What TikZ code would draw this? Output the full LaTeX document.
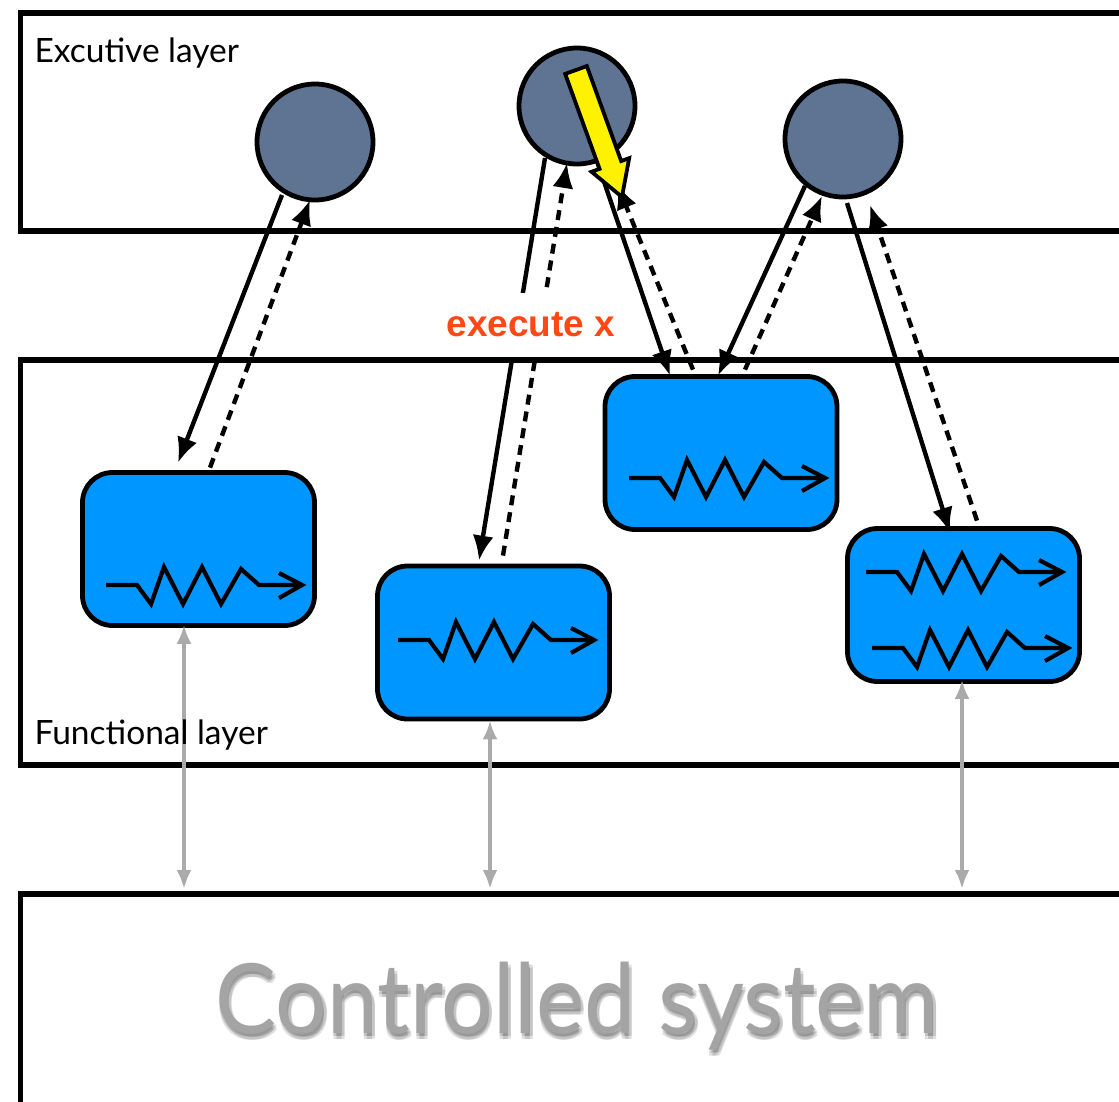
\documentclass[tikz,border=0pt]{standalone}
\usepackage{fontspec}
\setmainfont{Lato}
\newfontfamily\cmdfont{Liberation Sans}
\usetikzlibrary{arrows.meta,calc}

\definecolor{knot}{RGB}{94,116,146}
\definecolor{module}{RGB}{0,150,255}
\definecolor{link}{RGB}{170,170,170}
\definecolor{cmd}{RGB}{255,72,20}
\definecolor{sysgray}{RGB}{164,164,164}

\begin{document}
\begin{tikzpicture}[x=1pt,y=-1pt,
  layer/.style={draw=black,line width=5.5pt,rectangle,outer sep=0pt,inner sep=0pt,anchor=north west},
  knotnode/.style={circle,draw=black,line width=4.8pt,fill=knot,minimum size=116pt,inner sep=0pt},
  modbox/.style={rectangle,rounded corners=30pt,draw=black,line width=4.8pt,fill=module,
                 minimum width=232pt,minimum height=153pt,inner sep=0pt},
  req/.style={line width=4.4pt,-{Latex[length=25pt,width=21pt]}},
  rep/.style={req,dash pattern=on 10pt off 7pt},
  feed/.style={draw=link,line width=3.8pt,{Latex[length=19pt,width=15pt]}-{Latex[length=19pt,width=15pt]}},
  layertext/.style={anchor=base west,font=\fontsize{33.5}{38}\selectfont},
  wave/.pic={
    \draw[line width=4.2pt,line join=miter] (0,0) -- (31,0) -- (45,19) -- (58,-18) -- (77,19)
      -- (96,-18) -- (115,19) -- (135,-16) -- (153,0) -- (196,0);
    \draw[line width=4.2pt] (173,-12) -- (196,0) -- (173,13);
  }
]
\useasboundingbox (0,0) rectangle (1119,1101);
\clip (0,0) rectangle (1119,1101);

% the three layers
\node[layer,minimum width=1120pt,minimum height=218pt] (exec) at (20.5,13) {};
\node[layer,minimum width=1120pt,minimum height=405pt] (func) at (20.5,360) {};
\node[layer,minimum width=1120pt,minimum height=260pt] (plant) at (20.5,894) {};

% executive nodes
\node[knotnode] (c1) at (315,142) {};
\node[knotnode] (c2) at (577,106) {};
\node[knotnode] (c3) at (843,139) {};

% functional modules
\node[modbox] (fa) at (198.5,549) {};
\node[modbox] (fb) at (493.5,642.5) {};
\node[modbox] (fc) at (721,453) {};
\node[modbox] (fd) at (963.5,605) {};

\pic at ($(fa)+(-92.5,36)$) {wave};
\pic at ($(fb)+(-95.5,-2.5)$) {wave};
\pic at ($(fc)+(-92,25)$) {wave};
\pic at ($(fd)+(-97.5,-33)$) {wave};
\pic at ($(fd)+(-91.5,43)$) {wave};

% requests (solid) and replies (dashed)
\draw[req] ($(c1)+(-33,53)$) -- ($(fa.north)+(-20.5,-7.5)$);
\draw[rep] ($(fa.north)+(11.5,-2.5)$) -- ($(c1)+(-5,58)$);

\draw[req] ($(c2)+(-32,52)$) -- ($(fb.north)+(-14.5,-3)$);
\draw[rep] ($(fb.north)+(9.5,-8)$) -- ($(c2)+(-10,57)$);

\draw[req] ($(c2)+(20,55)$) -- ($(fc.north)+(-51,1.5)$);
\draw[rep] ($(fc.north)+(-28,-4.5)$) -- ($(c2)+(40,78)$);

\draw[req] ($(c3)+(-38,47)$) -- ($(fc.north)+(-3,1.5)$);
\draw[rep] ($(fc.north)+(24,-4.5)$) -- ($(c3)+(-21,57)$);

\draw[req] ($(c3)+(4,64)$) -- ($(fd.north)+(-13.5,6.5)$);
\draw[rep] ($(fd.north)+(13.5,-5.5)$) -- ($(c3)+(27,66)$);

% command label
\node[fill=white,inner sep=0pt,minimum width=190pt,minimum height=64pt,text=cmd,
      font=\cmdfont\bfseries\fontsize{37}{40}\selectfont] (cmdlabel) at (531,325) {execute x};

% highlighted command
\begin{scope}[shift={(576,70)},rotate=-70.1]
  \draw[line width=3.8pt,fill=yellow,line join=miter]
    (0,-11.5) -- (101,-11.5) -- (101,-20) -- (135,0) -- (101,20) -- (101,11.5) -- (0,11.5) -- cycle;
\end{scope}

% links to the controlled system
\draw[feed] ($(fa.south)+(-14.5,-3)$) coordinate (ga) -- ([yshift=5pt]ga |- plant.north);
\draw[feed] ($(fb.south)+(-3.5,-1)$) coordinate (gb) -- ([yshift=5pt]gb |- plant.north);
\draw[feed] ($(fd.south)+(-1.5,-4)$) coordinate (gd) -- ([yshift=5pt]gd |- plant.north);

% layer names
\node[layertext] (tx) at (31,62) {Excutive layer};
\node[layertext] (tf) at (31,744) {Functional layer};

% controlled system title with a soft shadow
\foreach \dx/\dy in {-1.5/-1.5,1.5/-1.5,-1.5/1.5,1.5/1.5} {
  \node[anchor=base,font=\fontsize{97}{110}\selectfont,text=black,opacity=0.12]
    at ($(577,1033)+(2+\dx,5+\dy)$) {\scalebox{0.94}[1]{Controlled system}};
}
\node[anchor=base,font=\fontsize{97}{110}\selectfont,text=sysgray] (sys) at (577,1033)
  {\scalebox{0.94}[1]{Controlled system}};
\end{tikzpicture}
\end{document}
